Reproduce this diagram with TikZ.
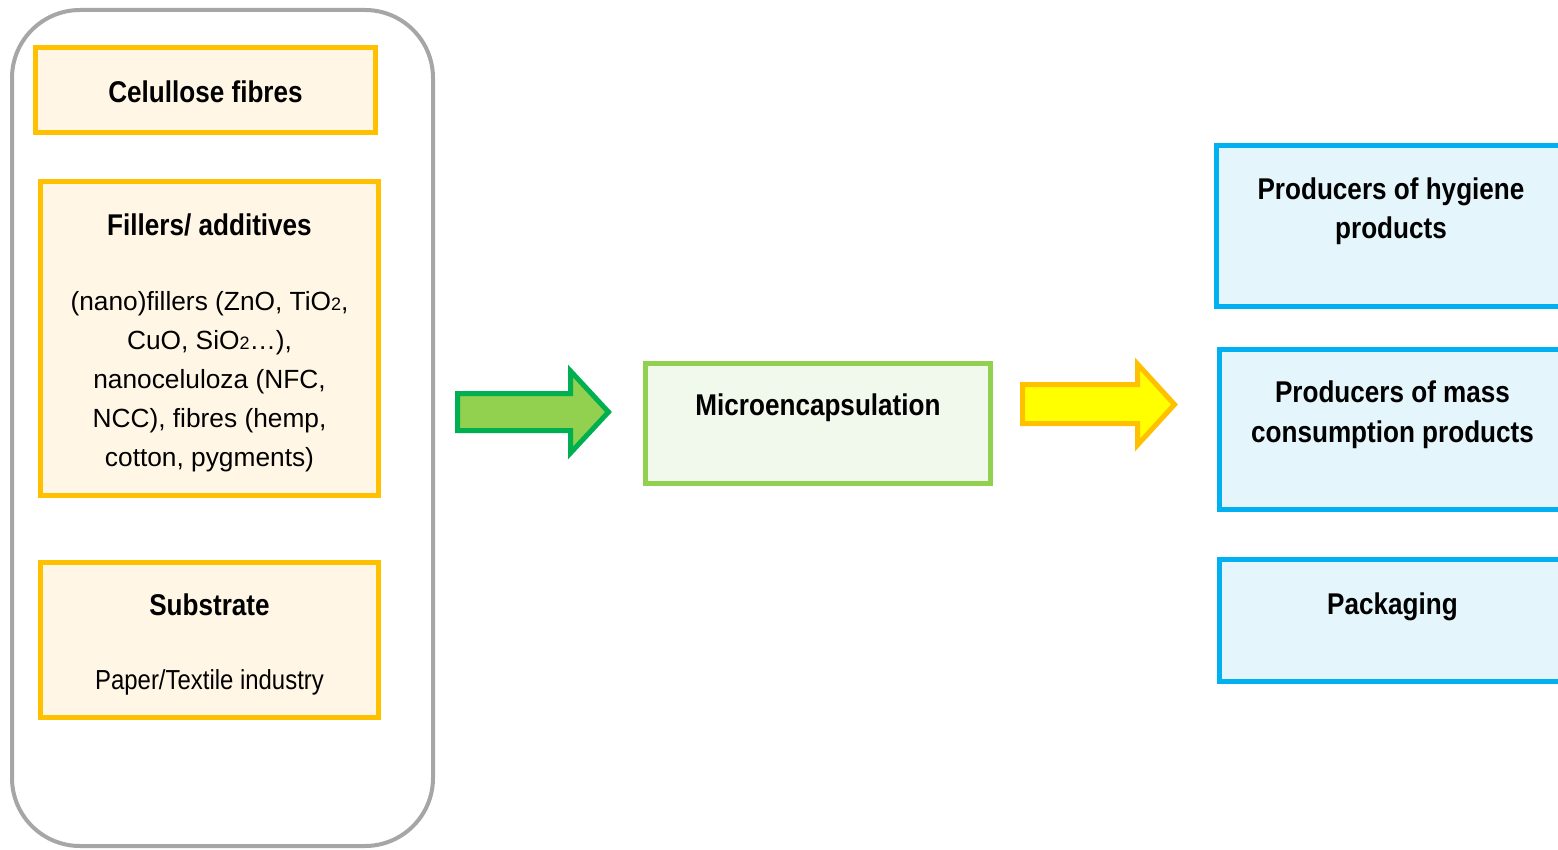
\documentclass[tikz,border=0pt]{standalone}
\usepackage{fontspec}
\setmainfont{Liberation Sans}[FakeStretch=0.87]
\newfontfamily\plainsans{Liberation Sans}
\definecolor{framegray}{HTML}{A6A6A6}
\definecolor{gold}{HTML}{FFC000}
\definecolor{cream}{HTML}{FFF6E5}
\definecolor{lgreen}{HTML}{92D050}
\definecolor{dgreen}{HTML}{00B050}
\definecolor{palegreen}{HTML}{F1F8EC}
\definecolor{skyblue}{HTML}{00B0F0}
\definecolor{paleblue}{HTML}{E5F5FC}
\definecolor{yel}{HTML}{FFFF00}
\tikzset{
  ybox/.style={draw=gold, fill=cream, line width=5pt, inner sep=0pt},
  gbox/.style={draw=lgreen, fill=palegreen, line width=4.5pt, inner sep=0pt},
  bbox/.style={draw=skyblue, fill=paleblue, line width=5pt, inner sep=0pt},
  btxt/.style={font=\fontsize{30}{39.5}\selectfont\bfseries, align=center, inner sep=0pt, anchor=base},
  rtxt/.style={font=\fontsize{27.5}{38.8}\selectfont, align=center, inner sep=0pt, anchor=base},
  wtxt/.style={font=\plainsans\fontsize{26.3}{38.8}\selectfont, align=center, inner sep=0pt, anchor=base},
  garrow/.style={draw=dgreen, fill=lgreen, line width=5pt, line join=miter},
  yarrow/.style={draw=gold, fill=yel, line width=5pt, line join=miter},
}
\newcommand{\subtwo}{{\fontsize{18}{18}\selectfont 2}}
\begin{document}
\begin{tikzpicture}[x=1pt, y=-1pt]
\clip (0,0) rectangle (1558,850);
\fill[white] (0,0) rectangle (1558,850);
% outer frame
\draw[framegray, line width=4pt, rounded corners=68pt] (12,10) rectangle (433,846);
% left column
\node[ybox, minimum width=340pt, minimum height=84.5pt] (cel) at (205.5,90.2) {};
\node[btxt] (celt) at (205.5,102.5) {Celullose fibres};
\node[ybox, minimum width=338pt, minimum height=314pt] (fil) at (209.5,338.5) {};
\node[btxt] (filt) at (209.5,236) {Fillers/ additives};
\node[wtxt] (filb) at (209.5,466) {(nano)fillers (ZnO, TiO\subtwo,\\CuO, SiO\subtwo…),\\nanoceluloza (NFC,\\NCC), fibres (hemp,\\cotton, pygments)};
\node[ybox, minimum width=338pt, minimum height=155pt] (sub) at (209.5,640) {};
\node[btxt] (subt) at (209.5,615) {Substrate};
\node[rtxt] (subb) at (209.5,689) {Paper/Textile industry};
% green arrow
\coordinate (g1) at (457.5,393.5);
\coordinate (g2) at (570.5,393.5);
\coordinate (g3) at (570.5,371);
\coordinate (g4) at (608.5,412);
\coordinate (g5) at (570.5,453);
\coordinate (g6) at (570.5,430.5);
\coordinate (g7) at (457.5,430.5);
\draw[garrow] (g1) -- (g2) -- (g3) -- (g4) -- (g5) -- (g6) -- (g7) -- cycle;
% middle box
\node[gbox, minimum width=345pt, minimum height=120pt] (mic) at (818,423.5) {};
\node[btxt] (mict) at (818,415) {Microencapsulation};
% yellow arrow
\coordinate (y1) at (1022.5,384.5);
\coordinate (y2) at (1137.5,384.5);
\coordinate (y3) at (1137.5,364);
\coordinate (y4) at (1174.5,404.5);
\coordinate (y5) at (1137.5,445);
\coordinate (y6) at (1137.5,423.5);
\coordinate (y7) at (1022.5,423.5);
\draw[yarrow] (y1) -- (y2) -- (y3) -- (y4) -- (y5) -- (y6) -- (y7) -- cycle;
% right column
\node[bbox, minimum width=349.5pt, minimum height=161pt] (hyg) at (1391,226) {};
\node[btxt] (hygt) at (1391,239) {Producers of hygiene\\products};
\node[bbox, minimum width=346pt, minimum height=160pt] (mass) at (1392.5,429.5) {};
\node[btxt] (masst) at (1392.5,442) {Producers of mass\\consumption products};
\node[bbox, minimum width=346pt, minimum height=122pt] (pack) at (1392.5,620.5) {};
\node[btxt] (packt) at (1392.5,614) {Packaging};
\end{tikzpicture}
\end{document}
